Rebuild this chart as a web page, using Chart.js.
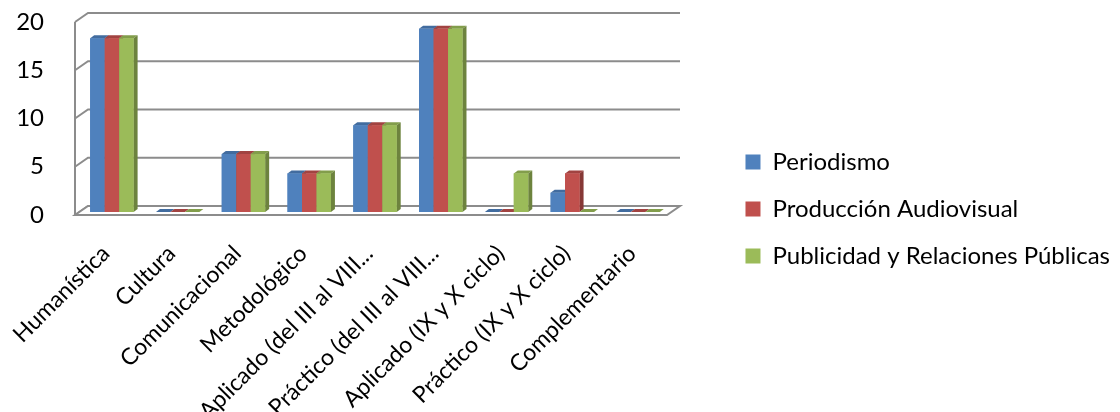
<!DOCTYPE html>
<html>
<head>
<meta charset="utf-8">
<script src="https://cdn.jsdelivr.net/npm/chart.js@4/dist/chart.umd.min.js"></script>
<style>
  html, body { margin: 0; padding: 0; background: #fff; }
  #wrap { width: 1120px; height: 412px; position: relative; }
</style>
</head>
<body>
<div id="wrap"><canvas id="chart"></canvas></div>
<script>
// Course areas and number of subjects per degree programme
const categories = [
  'Humanística',
  'Cultura',
  'Comunicacional',
  'Metodológico',
  'Aplicado (del III al VIII...',
  'Práctico (del III al VIII...',
  'Aplicado (IX y X ciclo)',
  'Práctico (IX y X ciclo)',
  'Complementario'
];
const periodismo            = [18, 0, 6, 4, 9, 19, 0, 2, 0];
const produccionAudiovisual = [18, 0, 6, 4, 9, 19, 0, 4, 0];
const publicidadRRPP        = [18, 0, 6, 4, 9, 19, 4, 0, 0];
const seriesNames = ['Periodismo', 'Producción Audiovisual', 'Publicidad y Relaciones Públicas'];
const seriesColors = ['#4F81BD', '#C0504D', '#9BBB59'];
const yMin = 0, yMax = 20, yStep = 5;

// Pseudo-3D geometry: the chart area is the plane of the bars' front faces.
const BAR_DEPTH = { dx: 4, dy: -3 };   // depth of each column
const FRONT = { dx: -4, dy: 3 };       // front edge of floor / axis plane
const BACK = { dx: 9, dy: -6 };        // back wall plane
const PLOT_TOP = 19;                   // top of the bar plane
const PLOT_BOTTOM = 212;               // base of the bar plane
const PLOT_LEFT = 79;
const PLOT_RIGHT = 671;
const GRID_COLOR = '#8c8c8c';

function shade(hex, f) {
  const n = parseInt(hex.slice(1), 16);
  const r = Math.round(((n >> 16) & 255) * f);
  const g = Math.round(((n >> 8) & 255) * f);
  const b = Math.round((n & 255) * f);
  return `rgb(${r},${g},${b})`;
}

const walls3d = {
  id: 'walls3d',
  beforeDatasetsDraw(chart) {
    const { ctx, chartArea: a, scales: { y } } = chart;
    const fl = a.left + FRONT.dx, fr = a.right + FRONT.dx;
    const bl = a.left + BACK.dx, br = a.right + BACK.dx;
    const y0 = y.getPixelForValue(yMin);
    ctx.save();
    ctx.strokeStyle = GRID_COLOR;
    ctx.lineWidth = 2;
    // side-wall diagonals and back-wall gridlines
    y.ticks.forEach(t => {
      const py = y.getPixelForValue(t.value);
      ctx.beginPath();
      ctx.moveTo(fl, py + FRONT.dy);
      ctx.lineTo(bl, py + BACK.dy);
      if (t.value > yMin) ctx.lineTo(br, py + BACK.dy);
      ctx.stroke();
    });
    // vertical value axis on the front plane
    ctx.beginPath();
    ctx.moveTo(fl, y.getPixelForValue(yMax) + FRONT.dy);
    ctx.lineTo(fl, y0 + FRONT.dy);
    ctx.stroke();
    // floor
    ctx.beginPath();
    ctx.moveTo(fl, y0 + FRONT.dy);
    ctx.lineTo(fr, y0 + FRONT.dy);
    ctx.lineTo(br, y0 + BACK.dy);
    ctx.lineTo(bl, y0 + BACK.dy);
    ctx.closePath();
    ctx.fillStyle = '#ffffff';
    ctx.fill();
    ctx.stroke();
    ctx.restore();
  },
  afterDatasetsDraw(chart) {
    const { ctx, chartArea } = chart;
    ctx.save();
    // draw series in order so each column covers the side of its left neighbour
    chart.data.datasets.forEach((ds, i) => {
      const meta = chart.getDatasetMeta(i);
      if (meta.hidden) return;
      meta.data.forEach(bar => {
        const { x, y, base, width } = bar.getProps(['x', 'y', 'base', 'width'], true);
        const l = x - width / 2, r = x + width / 2;
        const { dx, dy } = BAR_DEPTH;
        // top face
        ctx.beginPath();
        ctx.moveTo(l, y);
        ctx.lineTo(r, y);
        ctx.lineTo(r + dx, y + dy);
        ctx.lineTo(l + dx, y + dy);
        ctx.closePath();
        ctx.fillStyle = shade(ds.backgroundColor, 0.84);
        ctx.fill();
        // right side face
        if (base - y > 0.5) {
          ctx.beginPath();
          ctx.moveTo(r, y);
          ctx.lineTo(r + dx, y + dy);
          ctx.lineTo(r + dx, base + dy);
          ctx.lineTo(r, base);
          ctx.closePath();
          ctx.fillStyle = shade(ds.backgroundColor, 0.7);
          ctx.fill();
          bar.draw(ctx, chartArea);
        }
      });
    });
    ctx.restore();
  }
};

Chart.defaults.font.family = 'Lato, "Open Sans", sans-serif';
Chart.defaults.color = '#000';

new Chart(document.getElementById('chart'), {
  type: 'bar',
  data: {
    labels: categories,
    datasets: [
      { label: seriesNames[0], data: periodismo, backgroundColor: seriesColors[0] },
      { label: seriesNames[1], data: produccionAudiovisual, backgroundColor: seriesColors[1] },
      { label: seriesNames[2], data: publicidadRRPP, backgroundColor: seriesColors[2] }
    ]
  },
  options: {
    responsive: true,
    maintainAspectRatio: false,
    animation: false,
    events: [],
    layout: { padding: { top: 6, bottom: 0, left: 0, right: 0 } },
    datasets: {
      bar: { categoryPercentage: 0.66, barPercentage: 1.0, borderWidth: 0 }
    },
    scales: {
      x: {
        grid: { display: false },
        border: { display: false },
        ticks: {
          autoSkip: false,
          maxRotation: 45,
          minRotation: 45,
          padding: 20,
          labelOffset: -6,
          font: { size: 23 }
        },
        afterFit(s) {
          s.height = s.chart.height - PLOT_BOTTOM;
          s.paddingLeft = 0;
          s.paddingRight = 0;
        }
      },
      y: {
        min: yMin,
        max: yMax,
        grid: { display: false },
        border: { display: false },
        ticks: {
          stepSize: yStep,
          padding: 27,
          labelOffset: FRONT.dy,
          font: { size: 24 }
        },
        afterFit(s) {
          s.width = PLOT_LEFT;
          s.paddingTop = PLOT_TOP;
          s.paddingBottom = 0;
        }
      },
      gap: {
        type: 'linear',
        position: 'right',
        display: true,
        grid: { display: false },
        border: { display: false },
        ticks: { display: false },
        afterFit(s) {
          const lw = s.chart.legend ? s.chart.legend.width : 0;
          s.width = Math.max(0, s.chart.width - lw - PLOT_RIGHT);
          s.paddingTop = 0;
          s.paddingBottom = 0;
        }
      }
    },
    plugins: {
      legend: {
        position: 'right',
        align: 'center',
        maxWidth: 560,
        labels: {
          boxWidth: 15,
          boxHeight: 15,
          padding: 23,
          font: { size: 24 }
        }
      },
      tooltip: { enabled: false }
    }
  },
  plugins: [walls3d]
});
</script>
</body>
</html>
